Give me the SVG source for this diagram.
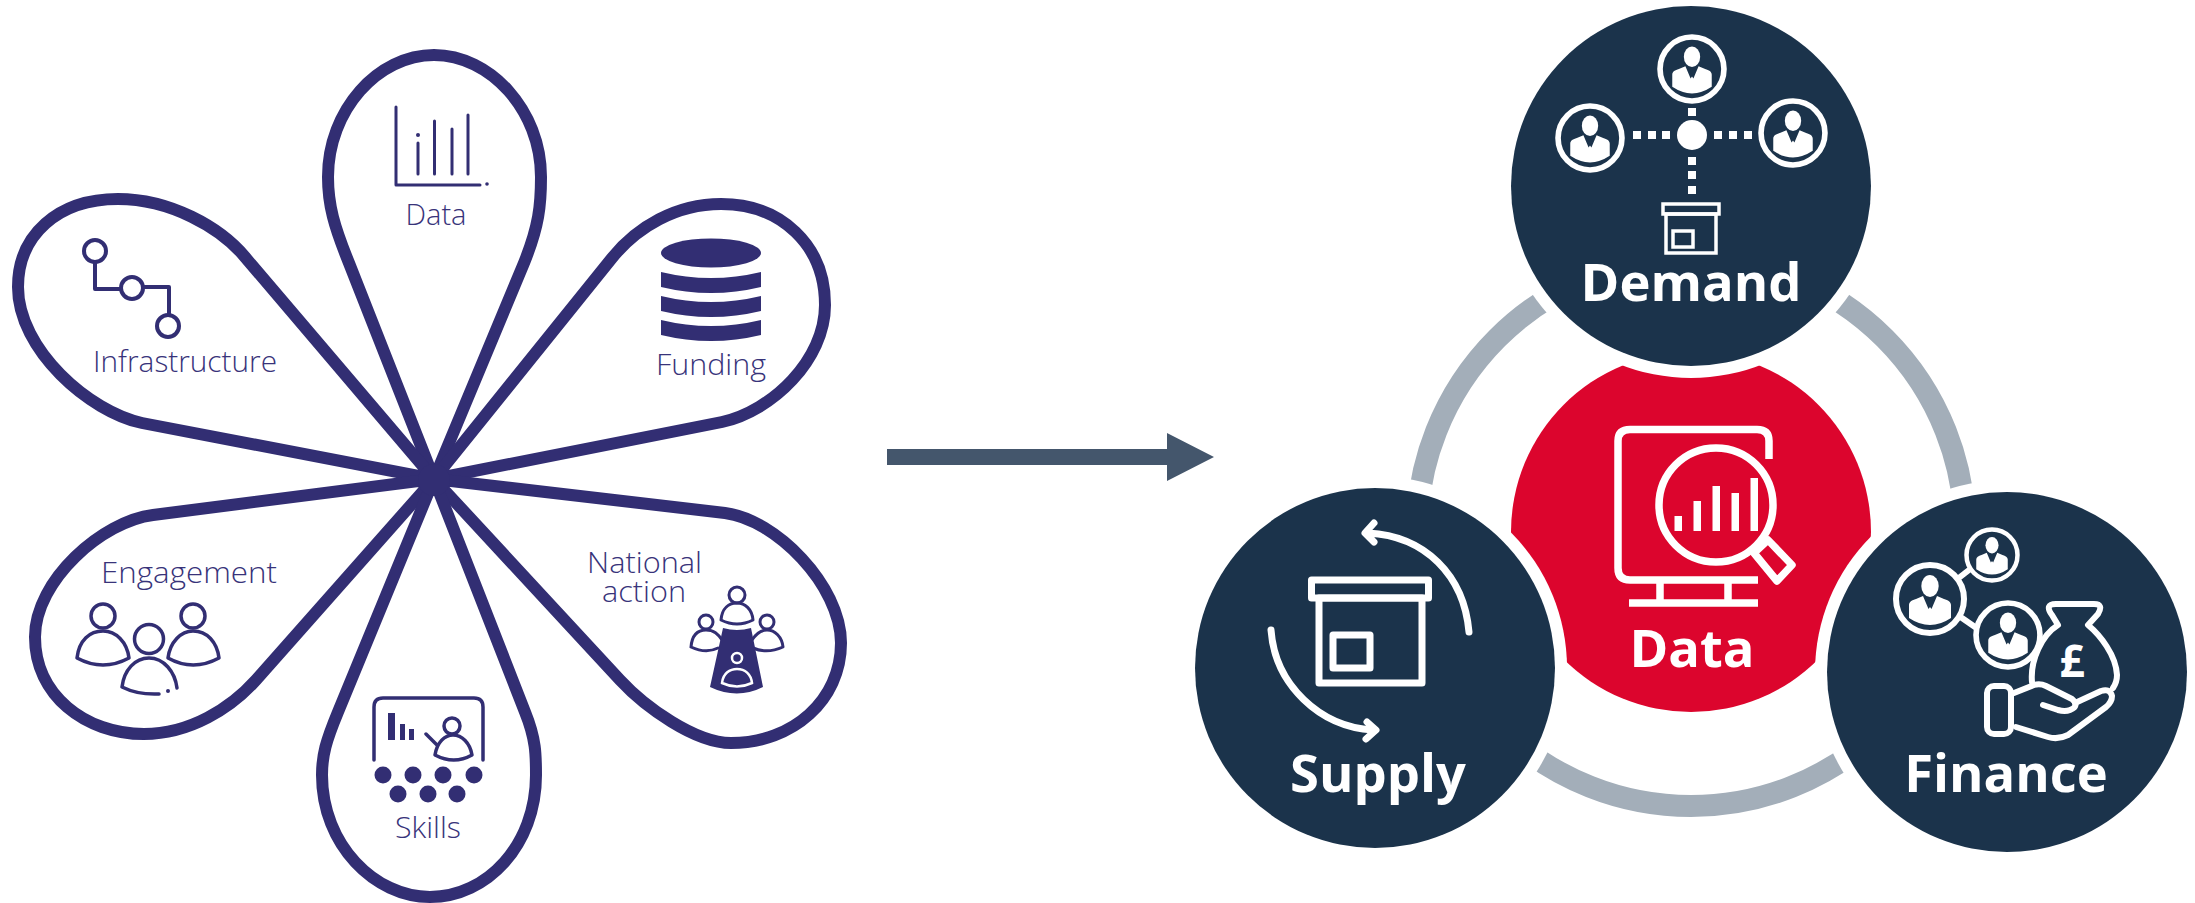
<svg xmlns="http://www.w3.org/2000/svg" xmlns:xlink="http://www.w3.org/1999/xlink" width="2195" height="903" viewBox="0 0 2195 903">
<style>
.petal{fill:none;stroke:#322e73;stroke-width:12;stroke-linejoin:round}
.pl{fill:none;stroke:#322e73;stroke-width:3.5;stroke-linecap:round;stroke-linejoin:round}
.pf{fill:#322e73}
.lt{font-family:"Open Sans","Liberation Sans",sans-serif;font-weight:300;font-size:29px;fill:#38337a;text-anchor:middle}
.rt{font-family:"Open Sans","Liberation Sans",sans-serif;font-weight:700;font-size:52.5px;fill:#fff;text-anchor:middle}
.halo{fill:#fff}
.dark{fill:#1b334b}
.wl{fill:none;stroke:#fff;stroke-width:7;stroke-linecap:round;stroke-linejoin:round}
.wm{fill:none;stroke:#fff;stroke-width:6;stroke-linecap:round;stroke-linejoin:round}
.wt{fill:none;stroke:#fff;stroke-width:3.5}
.wf{fill:#fff}
.wb{fill:none;stroke:#fff;stroke-width:7.5}
</style>
<defs>
<g id="person">
<circle r="34" fill="none" stroke="#fff" stroke-width="6"/>
<ellipse cx="0" cy="-13" rx="8.7" ry="11" fill="#fff"/>
<path fill="#fff" d="M-21 6C-21 3-18 1-14 0L-7-3-1.5 10 0 8 1.5 10 7-3 14 0C18 1 21 3 21 6L21 19Q0 33-21 19Z"/>
</g>
</defs>
<rect width="2195" height="903" fill="#fff"/>

<g id="connectors">
<polygon fill="#44566c" points="887,449 1167,449 1167,433 1214,457 1167,481 1167,465 887,465"/>
<circle cx="1691" cy="532" r="274" fill="none" stroke="#a3aeb9" stroke-width="22"/>
</g>

<g id="node-data-petal">
<path class="petal" d="M434 479L349 263C334 226 328 205 328 177C328 110 378 55 434 55C490 55 541 110 541 177C541 205 539 226 524 263Z"/>
<g class="pl" style="stroke-width:3">
<path d="M396 107V185H480M418 143V174M434.500 121V174M452 129V174M468 115V174"/>
</g>
<circle class="pf" cx="418" cy="135" r="2"/>
<circle class="pf" cx="487" cy="184" r="1.800"/>
<text class="lt" x="436" y="225" textLength="61" lengthAdjust="spacingAndGlyphs">Data</text>
</g>

<g id="node-funding">
<path class="petal" d="M434 479L612 258C637 227 676 204 721 204C781 204 825 245 825 305C825 360 772 411 722 422Z"/>
<ellipse class="pf" cx="711" cy="253" rx="50" ry="14.500"/>
<path class="pf" d="M661 272Q711 284 761 272V287Q711 299 661 287Z"/>
<path class="pf" d="M661 296Q711 308 761 296V311Q711 323 661 311Z"/>
<path class="pf" d="M661 320Q711 332 761 320V335Q711 347 661 335Z"/>
<text class="lt" x="711" y="375" textLength="110" lengthAdjust="spacingAndGlyphs">Funding</text>
</g>

<g id="node-infrastructure">
<path class="petal" d="M434 479L245 257C220 227 170 199 118 199C58 199 18 235 18 287C18 350 90 412 142 423Z"/>
<g class="pl" style="stroke-width:4">
<circle cx="95" cy="251" r="11"/><circle cx="132" cy="288" r="11"/><circle cx="168" cy="326" r="11"/>
<path d="M95 262V289H121M143 287H169V315"/>
</g>
<text class="lt" x="185" y="372" textLength="184" lengthAdjust="spacingAndGlyphs">Infrastructure</text>
</g>

<g id="node-engagement">
<path class="petal" d="M434 479L153 515C103 521 35 580 35 637C35 695 85 734 144 734C190 734 231 708 256 680Z"/>
<g class="pl">
<circle cx="103" cy="616" r="12"/><circle cx="193" cy="616" r="12"/><circle cx="149" cy="639" r="14.500"/>
<path d="M77 658C79 640 90 631 103 631C116 631 127 642 129 658Q103 672 77 658Z"/>
<path d="M168 658C170 642 181 631 193 631C207 631 217 642 219 658Q193 672 168 658Z"/>
<path d="M122 687C124 670 135 658 149 658C164 658 175 672 177 688M122 687Q138 695 159 694"/>
</g>
<circle class="pf" cx="168" cy="691" r="2"/>
<text class="lt" x="189" y="583" textLength="176" lengthAdjust="spacingAndGlyphs">Engagement</text>
</g>

<g id="node-national-action">
<path class="petal" d="M434 479L725 513C775 519 841 585 841 643C841 700 793 743 731 743C695 743 645 707 620 680Z"/>
<g class="pl" style="stroke-width:3">
<circle cx="737" cy="595" r="8"/><circle cx="706" cy="622" r="7"/><circle cx="767" cy="622" r="7"/>
<path d="M721 620C722 608 729 603 737 603C745 603 752 609 753 620Q737 628 721 620Z"/>
<path d="M691 647C692 635 698 630 706 630C714 630 718 634 722 640M752 640C756 634 760 630 767 630C775 630 782 637 783 647Q767 654 753 648M691 647Q706 654 718 648"/>
</g>
<path class="pf" d="M723 628Q737 632 751 628L763 687Q737 700 710 687Z"/>
<circle cx="737" cy="658" r="5" fill="none" stroke="#fff" stroke-width="2.500"/>
<path d="M722 683C723 673 730 669 737 669C745 669 751 674 752 683Q737 690 722 683Z" fill="none" stroke="#fff" stroke-width="2.500"/>
<text class="lt" x="644.500" y="573" textLength="115" lengthAdjust="spacingAndGlyphs">National</text>
<text class="lt" x="644" y="602" textLength="84" lengthAdjust="spacingAndGlyphs">action</text>
</g>

<g id="node-skills">
<path class="petal" d="M434 479L338 712C326 741 322 755 322 775C322 845 375 897 430 897C487 897 536 845 536 775C536 755 536 739 525 712Z"/>
<path class="pl" d="M374 760V707Q374 698 383 698H474Q483 698 483 707V760"/>
<rect class="pf" x="388" y="713" width="7" height="27"/><rect class="pf" x="400" y="724" width="5" height="16"/><rect class="pf" x="409" y="729" width="5" height="11"/>
<g class="pl">
<circle cx="452" cy="726" r="8"/>
<path d="M426 734L437 745M435 755C437 742 445 735 453 735C462 735 470 743 472 755Q454 765 435 755Z"/>
</g>
<g class="pf">
<circle cx="383" cy="775" r="8.500"/><circle cx="413" cy="775" r="8.500"/><circle cx="443" cy="775" r="8.500"/><circle cx="474" cy="775" r="8.500"/>
<circle cx="398" cy="794" r="8.500"/><circle cx="428" cy="794" r="8.500"/><circle cx="457" cy="794" r="8.500"/>
</g>
<text class="lt" x="428" y="838" textLength="66" lengthAdjust="spacingAndGlyphs">Skills</text>
</g>
<circle id="flower-hub" class="pf" cx="434" cy="480" r="16"/>

<g id="node-data">
<circle cx="1691" cy="532" r="180" fill="#dc052d"/>
<path class="wb" d="M1769 459V441Q1769 429.500 1757 429.500H1630Q1618 429.500 1618 441V568Q1618 580 1630 580H1758"/>
<path class="wb" d="M1660 580V603M1728 580V603M1629 603H1758"/>
<circle class="wb" cx="1716" cy="505" r="57"/>
<path class="wb" style="stroke-linejoin:round" d="M1754 553L1768 540 1792 565 1777 581Z"/>
<g class="wf">
<rect x="1674.500" y="516" width="7.500" height="15"/><rect x="1693.500" y="501" width="7.500" height="30"/><rect x="1712.500" y="486" width="7.500" height="45"/><rect x="1731.500" y="493" width="7.500" height="38"/><rect x="1750.500" y="478" width="7.500" height="53"/>
</g>
<text class="rt" x="1692" y="667">Data</text>
</g>

<g id="node-demand">
<circle class="halo" cx="1691" cy="186" r="192"/>
<circle class="dark" cx="1691" cy="186" r="180"/>
<use xlink:href="#person" href="#person" transform="translate(1692 69) scale(.94)"/>
<use xlink:href="#person" href="#person" transform="translate(1590 138) scale(.94)"/>
<use xlink:href="#person" href="#person" transform="translate(1793 133) scale(.94)"/>
<circle class="wf" cx="1692" cy="135" r="15"/>
<g class="wf">
<rect x="1633" y="131" width="8" height="8"/><rect x="1648" y="131" width="8" height="8"/><rect x="1662" y="131" width="8" height="8"/>
<rect x="1714" y="131" width="8" height="8"/><rect x="1729" y="131" width="8" height="8"/><rect x="1744" y="131" width="8" height="8"/>
<rect x="1688" y="108" width="8" height="8"/><rect x="1688" y="157" width="8" height="8"/><rect x="1688" y="171" width="8" height="8"/><rect x="1688" y="186" width="8" height="8"/>
</g>
<g class="wt">
<rect x="1663" y="204" width="56" height="10"/>
<rect x="1666" y="214" width="50" height="39"/>
<rect x="1673" y="231" width="20" height="16"/>
</g>
<text class="rt" x="1691" y="301">Demand</text>
</g>

<g id="node-supply">
<circle class="halo" cx="1375" cy="668" r="192"/>
<circle class="dark" cx="1375" cy="668" r="180"/>
<g class="wl">
<rect x="1311.500" y="580" width="117" height="18"/>
<rect x="1319" y="598" width="103" height="85"/>
<rect x="1333" y="635" width="37" height="33"/>
<path d="M1469 632C1464 575 1425 536 1368 533M1374 523L1365 533 1374 542"/>
<path d="M1271 630C1275 685 1320 727 1373 730M1367 722L1376 730 1366 739"/>
</g>
<text class="rt" x="1378" y="792">Supply</text>
</g>

<g id="node-finance">
<circle class="halo" cx="2007" cy="672" r="192"/>
<circle class="dark" cx="2007" cy="672" r="180"/>
<use xlink:href="#person" href="#person" transform="translate(1992 555) scale(.75)"/>
<use xlink:href="#person" href="#person" transform="translate(1930 599)"/>
<use xlink:href="#person" href="#person" transform="translate(2008 635) scale(.94)"/>
<g class="wm">
<path d="M1960 577L1969 570M1962 618L1975 627"/>
<path d="M2032 682C2030 660 2042 635 2058 625L2052 615Q2044 604 2056 604H2094Q2104 604 2098 614L2088 625C2100 635 2116 655 2117 675Q2117 682 2113 688"/>
<rect x="1987" y="686" width="24" height="48" rx="7"/>
<path d="M2014 693L2034 685Q2040 683 2046 686L2072 699Q2080 706 2070 710Q2065 712 2058 710L2043 705"/>
<path d="M2075 703L2101 691Q2110 688 2112 696Q2112 702 2106 707L2068 735Q2058 740 2048 737L2016 727"/>
</g>
<text x="2072" y="677" font-family="Open Sans, Liberation Sans, sans-serif" font-weight="700" font-size="44" fill="#fff" text-anchor="middle">£</text>
<text class="rt" x="2006" y="792">Finance</text>
</g>
</svg>
